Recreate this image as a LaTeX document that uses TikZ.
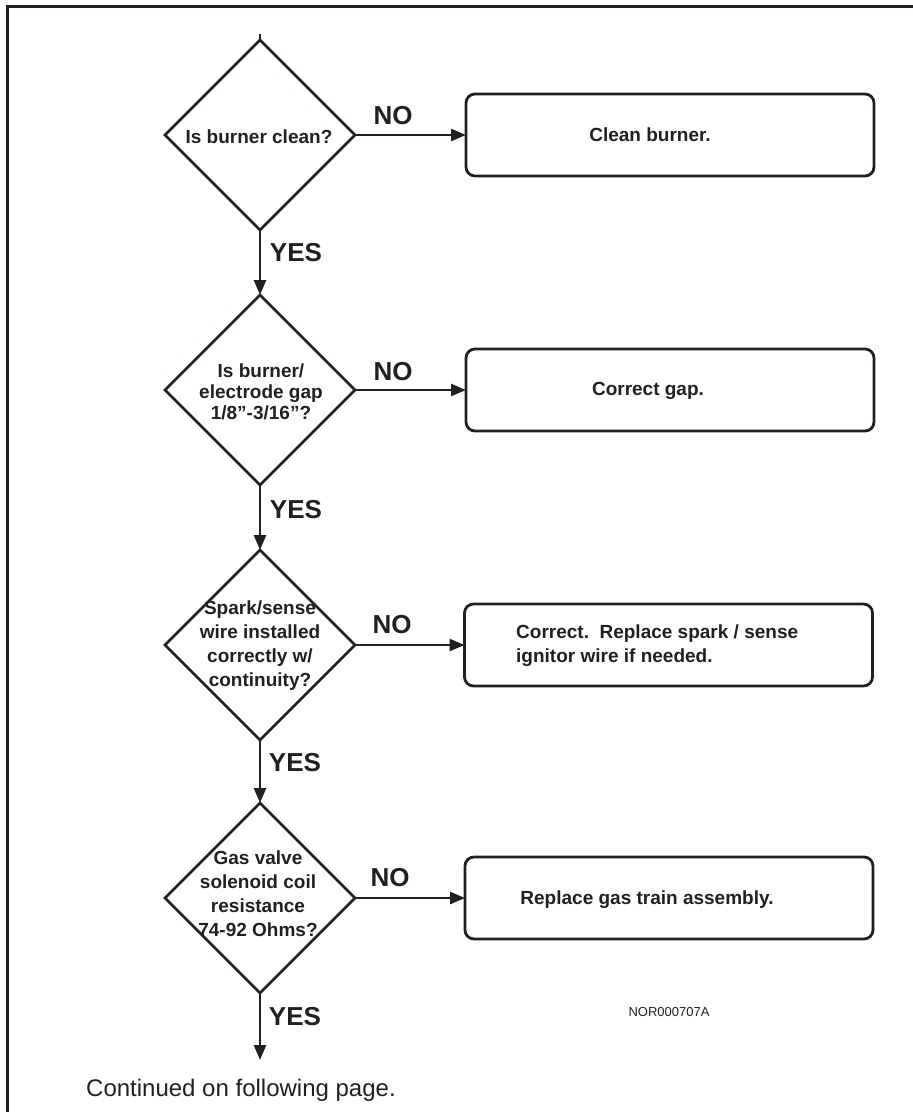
\documentclass[tikz,border=0pt]{standalone}
\usepackage{fontspec}
\setmainfont{Liberation Sans}
\usetikzlibrary{shapes.geometric,arrows.meta}
\definecolor{ink}{HTML}{231F20}
\begin{document}
\begin{tikzpicture}[x=1pt,y=-1pt,
  dia/.style={draw=ink, diamond, line width=2.6pt, minimum width=190pt, minimum height=190pt, inner sep=0pt, outer sep=0pt},
  dtext/.style={text=ink, font=\bfseries\fontsize{19}{21}\selectfont, align=center, inner sep=0pt},
  dtextw/.style={text=ink, font=\bfseries\fontsize{19}{24}\selectfont, align=center, inner sep=0pt},
  box/.style={draw=ink, rounded corners=9pt, line width=2.8pt, minimum width=408pt, minimum height=82pt, inner sep=0pt, outer sep=0pt},
  btext/.style={text=ink, font=\bfseries\fontsize{19}{24}\selectfont, align=left, inner sep=0pt},
  lab/.style={text=ink, font=\bfseries\fontsize{26}{28}\selectfont, inner sep=0pt},
  conn/.style={draw=ink, line width=2.6pt, -{Triangle[length=15pt,width=12pt]}},
  plain/.style={draw=ink, line width=2.6pt}
]
\useasboundingbox (0,0) rectangle (913,1112);
\draw[ink, line width=3pt] (7,1112) -- (7,6) -- (913,6);

% diamonds
\node[dia] (d1) at (260,135) {};
\node[dia] (d2) at (260,390) {};
\node[dia] (d3) at (260,645) {};
\node[dia] (d4) at (260,898) {};

\node[dtext] (t1) at (259,137) {Is burner clean?};
\node[dtext] (t2) at (261,392) {Is burner/\\electrode gap\\1/8''-3/16''?};
\node[dtextw] (t3) at (260,646) {Spark/sense\\wire installed\\correctly w/\\continuity?};
\node[dtextw] (t4) at (258,894) {Gas valve\\solenoid coil\\resistance\\74-92 Ohms?};

% boxes
\node[box] (b1) at (670,135) {};
\node[box] (b2) at (670,390) {};
\node[box] (b3) at (668.5,645) {};
\node[box] (b4) at (669,898) {};

\node[btext] (bt1) at (650,135) {Clean burner.};
\node[btext] (bt2) at (648,391) {Correct gap.};
\node[btext, anchor=west] (bt3) at (516,646) {Correct.\ \ Replace spark / sense\\ignitor wire if needed.};
\node[btext] (bt4) at (647,900) {Replace gas train assembly.};

% connectors
\coordinate (top) at (260,34);
\coordinate (bot) at (260,1060);
\draw[plain] (top) -- (d1.north);
\draw[conn] (d1.south) -- (d2.north);
\draw[conn] (d2.south) -- (d3.north);
\draw[conn] (d3.south) -- (d4.north);
\draw[conn] (d4.south) -- (bot);
\draw[conn] (d1.east) -- (b1.west);
\draw[conn] (d2.east) -- (b2.west);
\draw[conn] (d3.east) -- (b3.west);
\draw[conn] (d4.east) -- (b4.west);

% labels
\node[lab] (n1) at (393,116) {NO};
\node[lab] (n2) at (393,372) {NO};
\node[lab] (n3) at (392,625) {NO};
\node[lab] (n4) at (390,878) {NO};
\node[lab] (y1) at (296,253) {YES};
\node[lab] (y2) at (296,510) {YES};
\node[lab] (y3) at (295,763) {YES};
\node[lab] (y4) at (295,1017) {YES};

\node[text=ink, font=\fontsize{13}{15}\selectfont, inner sep=0pt] (code) at (669,1012) {NOR000707A};
\node[text=ink, font=\fontsize{24}{28}\selectfont, inner sep=0pt, anchor=west] (cont) at (86,1090) {Continued on following page.};
\end{tikzpicture}
\end{document}
